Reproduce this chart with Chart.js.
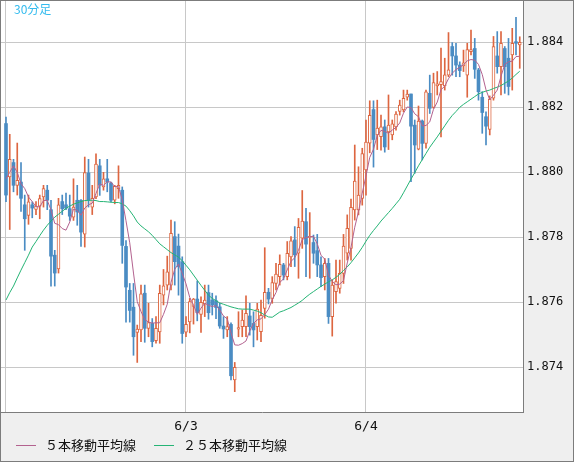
<!DOCTYPE html>
<html>
<head>
<meta charset="utf-8">
<script src="https://cdn.jsdelivr.net/npm/chart.js@4.4.1/dist/chart.umd.min.js"></script>
<style>
  html, body { margin: 0; padding: 0; background: #efefef; }
  #wrap { position: relative; width: 574px; height: 462px; }
</style>
</head>
<body>
<div id="wrap"><canvas id="c" width="574" height="462"></canvas></div>
<script>
// 30 min candles, index 0 = 6/2 00:00
const opens = [
  1.8815, 1.87986, 1.8803, 1.8796, 1.8797, 1.879, 1.87867, 1.879, 1.87886, 1.87896, 1.87924, 1.87945,
  1.87885, 1.87745, 1.87703, 1.8791, 1.879, 1.87888, 1.87862, 1.87914, 1.87914, 1.8781, 1.87998, 1.87893,
  1.87924, 1.8802, 1.87955, 1.8798, 1.87967, 1.87914, 1.8795, 1.87945, 1.87772, 1.87637, 1.87585, 1.87507,
  1.87515, 1.87628, 1.8752, 1.87535, 1.87482, 1.87509, 1.87622, 1.87653, 1.87653, 1.87802, 1.87773, 1.87725,
  1.87508, 1.8754, 1.87587, 1.8761, 1.87563, 1.87595, 1.8763, 1.87607, 1.87605, 1.87586, 1.87527, 1.87515,
  1.87532, 1.87361, 1.87517, 1.87525, 1.87525, 1.87558, 1.87535, 1.87525, 1.8751, 1.87581, 1.87631, 1.87612,
  1.87658, 1.87679, 1.87715, 1.87679, 1.8774, 1.87792, 1.87751, 1.87797, 1.87848, 1.878, 1.87784, 1.87759,
  1.87715, 1.87679, 1.8772, 1.87556, 1.87633, 1.87643, 1.87689, 1.87751, 1.87766, 1.87884, 1.87884, 1.8792,
  1.88007, 1.8809, 1.88193, 1.88115, 1.8811, 1.8814, 1.88124, 1.88115, 1.8814, 1.88187, 1.88192, 1.88231,
  1.88241, 1.88145, 1.88071, 1.88158, 1.88089, 1.88243, 1.882, 1.88266, 1.8827, 1.88266, 1.88299, 1.88387,
  1.88358, 1.8833, 1.88327, 1.88299, 1.88371, 1.88381, 1.88315, 1.88231, 1.88171, 1.88132, 1.88228, 1.88358,
  1.88325, 1.88381, 1.88351, 1.88361, 1.88402, 1.88392
];
const highs = [
  1.8817, 1.88117, 1.8804, 1.8809, 1.8803, 1.8793, 1.8793, 1.87909, 1.8791, 1.8793, 1.8796, 1.8796,
  1.87914, 1.8776, 1.8792, 1.8793, 1.87936, 1.8793, 1.8798, 1.8796, 1.87916, 1.88047, 1.8804, 1.8796,
  1.88057, 1.8804, 1.88, 1.8804, 1.8797, 1.8796, 1.8802, 1.87955, 1.8779, 1.87658, 1.87658, 1.8753,
  1.87653, 1.87653, 1.87597, 1.8755, 1.87556, 1.87653, 1.87701, 1.87742, 1.87853, 1.87848, 1.8781, 1.8774,
  1.87556, 1.87612, 1.87612, 1.87666, 1.87617, 1.87653, 1.87653, 1.87628, 1.8762, 1.87597, 1.87556, 1.87556,
  1.87537, 1.87415, 1.87571, 1.87576, 1.8762, 1.87597, 1.87571, 1.87597, 1.87607, 1.87768, 1.87643, 1.87679,
  1.8772, 1.87746, 1.8772, 1.87787, 1.87802, 1.87833, 1.87858, 1.87944, 1.87889, 1.87876, 1.87807, 1.87809,
  1.8774, 1.87735, 1.87735, 1.87669, 1.8773, 1.8773, 1.87809, 1.87869, 1.87918, 1.88084, 1.88017, 1.88074,
  1.88161, 1.8822, 1.8822, 1.88222, 1.88176, 1.88161, 1.88238, 1.88161, 1.88187, 1.88222, 1.88253, 1.88253,
  1.88241, 1.88161, 1.88204, 1.88161, 1.88253, 1.88299, 1.88305, 1.8831, 1.88382, 1.88351, 1.8843, 1.88399,
  1.88397, 1.8834, 1.88376, 1.88397, 1.88438, 1.88412, 1.8832, 1.88248, 1.88186, 1.88235, 1.88418, 1.88433,
  1.88433, 1.88387, 1.88412, 1.88443, 1.88477, 1.88417
];
const lows = [
  1.8791, 1.87824, 1.8794, 1.8793, 1.8788, 1.8776, 1.8784, 1.8786, 1.8787, 1.87857, 1.87893, 1.87885,
  1.8765, 1.8765, 1.8769, 1.8787, 1.87885, 1.87852, 1.87852, 1.87837, 1.87772, 1.8777, 1.87893, 1.8787,
  1.87919, 1.87929, 1.87945, 1.8794, 1.87909, 1.87903, 1.8792, 1.8772, 1.87539, 1.87539, 1.87437, 1.87415,
  1.87479, 1.87477, 1.87494, 1.87463, 1.87474, 1.87474, 1.87592, 1.87638, 1.87638, 1.87653, 1.87622, 1.87474,
  1.87494, 1.87506, 1.87533, 1.87543, 1.87507, 1.87556, 1.87548, 1.87561, 1.8755, 1.8752, 1.87489, 1.87494,
  1.87361, 1.87325, 1.87494, 1.87494, 1.87494, 1.87499, 1.87463, 1.87484, 1.87479, 1.87551, 1.87595, 1.87597,
  1.87638, 1.87653, 1.87669, 1.87669, 1.8771, 1.8771, 1.87674, 1.87766, 1.87679, 1.87674, 1.8772, 1.87679,
  1.87648, 1.87638, 1.87535, 1.87496, 1.87597, 1.87628, 1.87658, 1.8773, 1.8773, 1.87853, 1.87869, 1.87899,
  1.8793, 1.8806, 1.88016, 1.8807, 1.88068, 1.88062, 1.8807, 1.881, 1.8813, 1.88176, 1.88186, 1.88222,
  1.87971, 1.87997, 1.88069, 1.88038, 1.88074, 1.88181, 1.88197, 1.88238, 1.88109, 1.88253, 1.88294, 1.88299,
  1.88294, 1.88294, 1.8831, 1.88231, 1.88361, 1.88289, 1.88222, 1.8812, 1.88084, 1.88115, 1.88222, 1.88305,
  1.88238, 1.88243, 1.88238, 1.88253, 1.88361, 1.8832
];
const closes = [
  1.8793, 1.8804, 1.8796, 1.87975, 1.8792, 1.87857, 1.87909, 1.8789, 1.87896, 1.87919, 1.8795, 1.87914,
  1.87742, 1.8769, 1.879, 1.87888, 1.8789, 1.87865, 1.87893, 1.87878, 1.87816, 1.87999, 1.87914, 1.8792,
  1.88025, 1.8796, 1.8798, 1.8797, 1.87914, 1.87957, 1.8796, 1.87775, 1.87647, 1.87575, 1.87494, 1.87518,
  1.87626, 1.8752, 1.87538, 1.87479, 1.8752, 1.87628, 1.87651, 1.87694, 1.87812, 1.87725, 1.8771, 1.87504,
  1.87532, 1.87602, 1.8761, 1.87568, 1.876, 1.87607, 1.87568, 1.87592, 1.87584, 1.87527, 1.87518, 1.87525,
  1.87374, 1.874, 1.87522, 1.87545, 1.87566, 1.87525, 1.87515, 1.87579, 1.8756, 1.87631, 1.8761, 1.87661,
  1.87687, 1.87717, 1.87684, 1.87751, 1.87789, 1.87746, 1.87831, 1.8785, 1.87779, 1.87803, 1.87751, 1.87715,
  1.87676, 1.8772, 1.87556, 1.87653, 1.87664, 1.87689, 1.87773, 1.87828, 1.87892, 1.87973, 1.8793, 1.88058,
  1.88093, 1.88175, 1.88101, 1.88136, 1.8814, 1.88078, 1.88145, 1.88149, 1.88179, 1.88207, 1.88228, 1.88241,
  1.88142, 1.88084, 1.88158, 1.88089, 1.88248, 1.88197, 1.88276, 1.88272, 1.88279, 1.883, 1.88315, 1.88358,
  1.8833, 1.88313, 1.88337, 1.88378, 1.88378, 1.88317, 1.88248, 1.88184, 1.88142, 1.88225, 1.88387, 1.88325,
  1.88397, 1.88325, 1.88264, 1.88397, 1.88397, 1.884
];
// moving averages
const ma5 = [
  1.8798, 1.88, 1.8802, 1.88, 1.87965, 1.8795, 1.87924, 1.8791, 1.87894, 1.87894, 1.87913, 1.87914,
  1.87884, 1.87843, 1.87839, 1.87827, 1.87822, 1.87847, 1.87887, 1.87883, 1.87868, 1.8789, 1.879, 1.87905,
  1.87935, 1.87964, 1.8796, 1.87971, 1.8797, 1.87956, 1.87956, 1.87915, 1.87851, 1.87783, 1.8769, 1.87602,
  1.87572, 1.87547, 1.87539, 1.87536, 1.87537, 1.87537, 1.87563, 1.87594, 1.87661, 1.87702, 1.87718, 1.87689,
  1.87657, 1.87615, 1.87592, 1.87563, 1.87582, 1.87597, 1.87591, 1.87587, 1.8759, 1.87576, 1.87558, 1.87549,
  1.87506, 1.87469, 1.87468, 1.87473, 1.87481, 1.87512, 1.87535, 1.87546, 1.87549, 1.87562, 1.87579, 1.87608,
  1.8763, 1.87661, 1.87672, 1.877, 1.87726, 1.87737, 1.8776, 1.87793, 1.87799, 1.87802, 1.87803, 1.8778,
  1.87745, 1.87733, 1.87684, 1.87664, 1.87654, 1.87656, 1.87667, 1.87721, 1.87769, 1.87831, 1.87879, 1.87936,
  1.87989, 1.88046, 1.88071, 1.88113, 1.88129, 1.88126, 1.8812, 1.8813, 1.88138, 1.88152, 1.88182, 1.88201,
  1.88199, 1.8818, 1.88171, 1.88143, 1.88144, 1.88155, 1.88194, 1.88216, 1.88254, 1.88265, 1.88288, 1.88305,
  1.88316, 1.88323, 1.88331, 1.88343, 1.88347, 1.88345, 1.88332, 1.88301, 1.88254, 1.88223, 1.88237, 1.88253,
  1.88295, 1.88332, 1.8834, 1.88342, 1.88356, 1.88357
];
const ma25 = [
  1.87607, 1.8763, 1.8765, 1.87675, 1.87699, 1.87722, 1.87745, 1.8777, 1.87787, 1.87805, 1.87822, 1.87837,
  1.8785, 1.87862, 1.87871, 1.8788, 1.87889, 1.87896, 1.87902, 1.87906, 1.8791, 1.87913, 1.87914, 1.87914,
  1.87913, 1.8791, 1.8791, 1.87909, 1.87908, 1.87907, 1.87907, 1.87903, 1.87896, 1.87882, 1.87866, 1.87847,
  1.87835, 1.87826, 1.87817, 1.87806, 1.87793, 1.8778, 1.87771, 1.87762, 1.87753, 1.87746, 1.87739, 1.87728,
  1.87714, 1.877, 1.87684, 1.87668, 1.87652, 1.87637, 1.87622, 1.87612, 1.87605, 1.87598, 1.87594, 1.8759,
  1.87586, 1.87583, 1.8758, 1.87579, 1.87579, 1.87579, 1.87576, 1.87573, 1.87568, 1.87561, 1.87555, 1.87554,
  1.87562, 1.8757, 1.87574, 1.87579, 1.87584, 1.87591, 1.87598, 1.87606, 1.87616, 1.87625, 1.87633, 1.87641,
  1.87649, 1.87656, 1.87663, 1.87669, 1.87677, 1.87686, 1.87698, 1.87709, 1.87722, 1.87737, 1.87752, 1.87769,
  1.87788, 1.87806, 1.87821, 1.87835, 1.8785, 1.87863, 1.87876, 1.87889, 1.87903, 1.87917, 1.87937, 1.87958,
  1.87979, 1.87999, 1.8802, 1.88039, 1.88058, 1.88077, 1.88093, 1.88109, 1.88126, 1.88143, 1.8816, 1.88175,
  1.88187, 1.882, 1.88209, 1.88217, 1.88225, 1.88233, 1.88241, 1.88246, 1.8825, 1.88253, 1.88258, 1.88262,
  1.88267, 1.88274, 1.88281, 1.8829, 1.88301, 1.88311
];

// axis ticks
const xTickPos = [0, 48, 96];
const xTickLabels = ['', '6/3', '6/4'];
const yTicks = [1.874, 1.876, 1.878, 1.880, 1.882, 1.884];

const UP = '#dd6640';
const DOWN = '#4a8cc3';
const isUp = i => closes[i] >= opens[i];

const wickData = highs.map((h, i) => ({ x: i, y: [lows[i], h] }));
const bodyData = opens.map((o, i) => ({ x: i, y: [o, closes[i]] }));

// background, frame, title and legend
const frame = {
  id: 'frame',
  beforeDraw(chart) {
    const { ctx, chartArea: a } = chart;
    ctx.save();
    ctx.fillStyle = '#efefef';
    ctx.fillRect(0, 0, chart.width, chart.height);
    ctx.fillStyle = '#ffffff';
    ctx.fillRect(a.left, a.top, a.right - a.left, a.bottom - a.top);
    ctx.restore();
  },
  afterDraw(chart) {
    const { ctx } = chart;
    ctx.save();
    ctx.strokeStyle = '#7c7c7c';
    ctx.lineWidth = 1;
    ctx.strokeRect(0.5, 0.5, chart.width - 1, chart.height - 1);

    ctx.fillStyle = '#33bbee';
    ctx.font = '12px "Noto Sans CJK JP"';
    ctx.textBaseline = 'top';
    ctx.fillText('30分足', 14, 3);

    ctx.font = '13px "Noto Sans CJK JP"';
    ctx.textBaseline = 'middle';
    let x = 16;
    for (let k = 0; k < 2; k++) {
      const ds = chart.data.datasets[k];
      ctx.strokeStyle = ds.borderColor;
      ctx.beginPath();
      ctx.moveTo(x, 445.5);
      ctx.lineTo(x + 20, 445.5);
      ctx.stroke();
      ctx.fillStyle = '#111';
      ctx.fillText(ds.label, x + 29, 445);
      x += 29 + ctx.measureText(ds.label).width + 18;
    }
    ctx.restore();
  }
};

new Chart(document.getElementById('c'), {
  type: 'bar',
  data: {
    datasets: [
      {
        type: 'line',
        label: '５本移動平均線',
        data: ma5.map((v, i) => ({ x: i, y: v })),
        borderColor: '#b3628f',
        borderWidth: 1,
        pointRadius: 0,
        tension: 0
      },
      {
        type: 'line',
        label: '２５本移動平均線',
        data: ma25.map((v, i) => ({ x: i, y: v })),
        borderColor: '#25b475',
        borderWidth: 1,
        pointRadius: 0,
        tension: 0
      },
      {
        label: 'body',
        data: bodyData,
        grouped: false,
        barThickness: 3,
        minBarLength: 1,
        borderSkipped: false,
        backgroundColor: ctx => isUp(ctx.dataIndex) ? '#ffffff' : DOWN,
        borderColor: ctx => isUp(ctx.dataIndex) ? UP : DOWN,
        borderWidth: ctx => isUp(ctx.dataIndex) ? 1 : 0
      },
      {
        label: 'wick',
        data: wickData,
        grouped: false,
        barThickness: 1,
        borderWidth: 0,
        backgroundColor: ctx => isUp(ctx.dataIndex) ? UP : DOWN
      }
    ]
  },
  options: {
    responsive: false,
    animation: false,
    events: [],
    layout: { autoPadding: false, padding: { left: 1, top: 1, right: 1, bottom: 0 } },
    plugins: { legend: { display: false }, tooltip: { enabled: false } },
    scales: {
      x: {
        type: 'linear',
        offset: false,
        min: -1.3333,
        max: 137.867,
        grid: { color: '#c8c8c8', drawTicks: false, offset: false },
        border: { color: '#7c7c7c' },
        afterBuildTicks: s => { s.ticks = xTickPos.map(v => ({ value: v })); },
        afterFit: s => { s.height = 50; s.paddingLeft = 0; s.paddingRight = 0; },
        ticks: {
          autoSkip: false,
          maxRotation: 0,
          padding: 7,
          color: '#111',
          font: { family: 'DejaVu Sans Mono', size: 13 },
          callback: (v) => xTickLabels[xTickPos.indexOf(v)]
        }
      },
      y: {
        position: 'right',
        min: 1.872625,
        max: 1.885271,
        grid: { color: '#c8c8c8', drawTicks: false },
        border: { color: '#7c7c7c' },
        afterBuildTicks: s => { s.ticks = yTicks.map(v => ({ value: v })); },
        afterFit: s => { s.width = 50; s.paddingTop = 0; s.paddingBottom = 0; },
        ticks: {
          padding: 4,
          color: '#111',
          font: { family: 'DejaVu Sans Mono', size: 12 },
          callback: v => v.toFixed(3)
        }
      }
    }
  },
  plugins: [frame]
});
</script>
</body>
</html>
